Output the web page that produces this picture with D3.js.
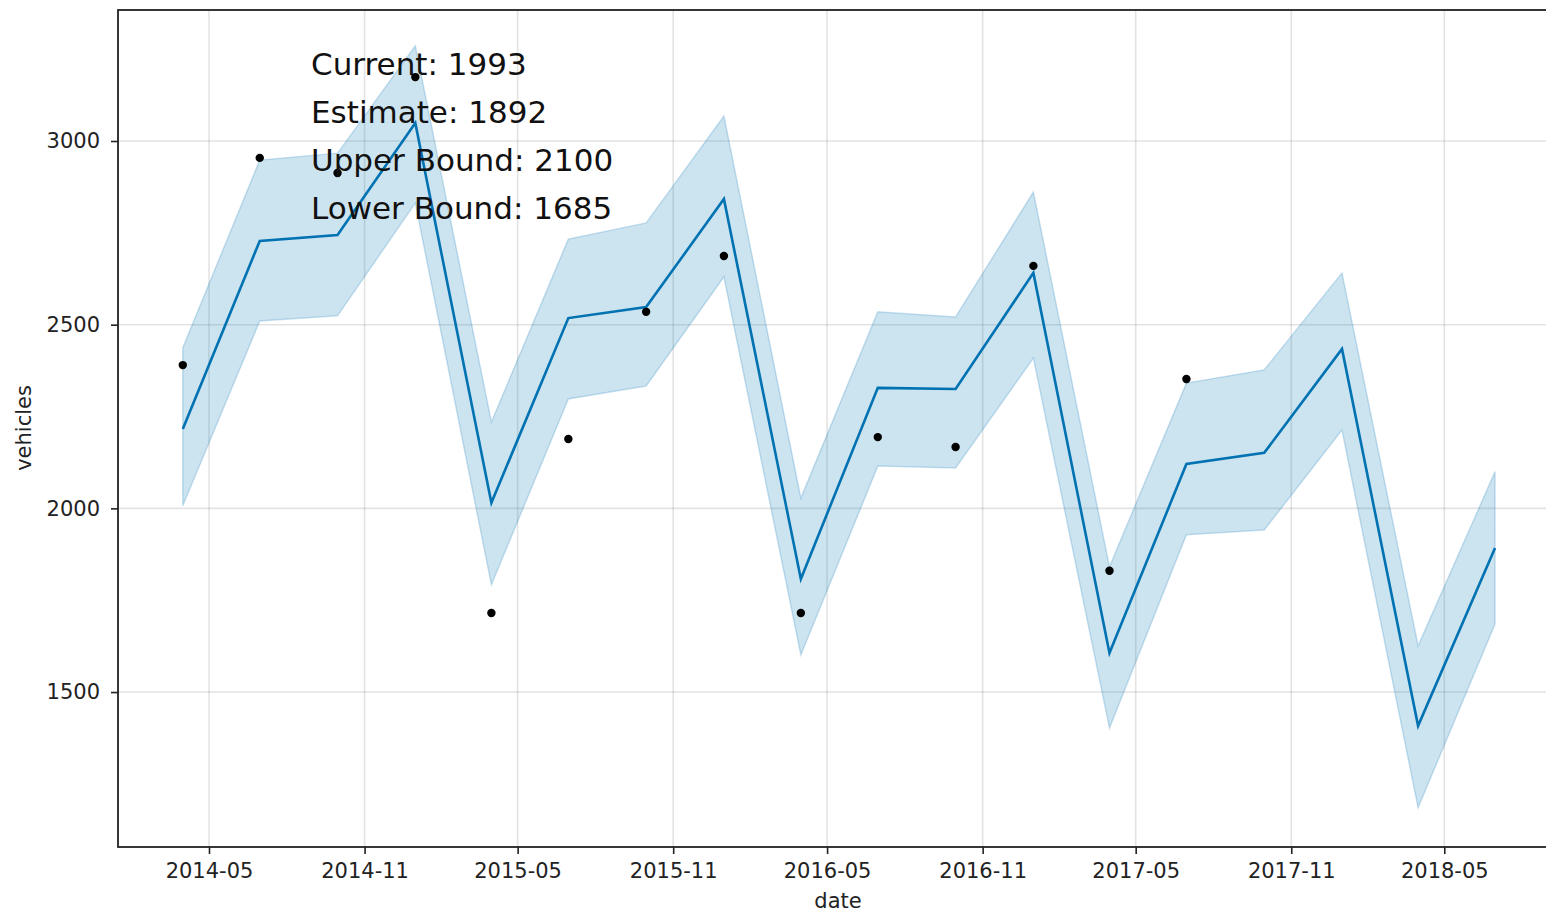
<!DOCTYPE html>
<html>
<head>
<meta charset="utf-8">
<script src="https://cdn.jsdelivr.net/npm/d3@7"></script>
<style>
  html, body { margin: 0; padding: 0; background: #fff; overflow: hidden; }
  svg { display: block; font-family: "DejaVu Sans", sans-serif; }
</style>
</head>
<body>
<svg id="chart" width="1546" height="913"></svg>
<script>
// ---- data ----
const forecastDates = ["2014-03-31","2014-06-30","2014-09-30","2014-12-31","2015-03-31","2015-06-30","2015-09-30","2015-12-31","2016-03-31","2016-06-30","2016-09-30","2016-12-31","2017-03-31","2017-06-30","2017-09-30","2017-12-31","2018-03-31","2018-06-30"];
const yhat       = [2216,2728,2744,3049,2015,2518,2548,2842,1808,2328,2325,2641,1606,2121,2151,2434,1408,1892];
const yhatUpper  = [2437,2948,2967,3259,2235,2733,2777,3068,2028,2535,2521,2861,1841,2341,2377,2641,1626,2100];
const yhatLower  = [2007,2510,2524,2831,1792,2298,2333,2630,1601,2115,2110,2409,1402,1928,1941,2213,1185,1685];
const actualDates = forecastDates.slice(0, 14);
const actual      = [2390,2954,2913,3174,1715,2189,2535,2687,1715,2194,2167,2660,1830,2352];
const xTickDates  = ["2014-05-01","2014-11-01","2015-05-01","2015-11-01","2016-05-01","2016-11-01","2017-05-01","2017-11-01","2018-05-01"];
const yTicks      = [1500,2000,2500,3000];
const infoLines   = ["Current: 1993","Estimate: 1892","Upper Bound: 2100","Lower Bound: 1685"];

// ---- layout ----
const L = 118, T = 10, R = 1558, B = 847;
const parse = s => new Date(s + "T00:00:00Z");
const svg = d3.select("#chart");

// x: calibrated so 2014-05-01 -> 209, 2018-05-01 -> 1444.3
const x0 = parse("2014-05-01"), x1 = parse("2018-05-01");
const pxPerMs = (1444.3 - 209) / (x1 - x0);
const dLeft = new Date(+x0 - (209 - L) / pxPerMs);
const dRight = new Date(+x1 + (R - 1444.3) / pxPerMs);
const x = d3.scaleUtc().domain([dLeft, dRight]).range([L, R]);
const y = d3.scaleLinear().domain([1078.2, 3356.6]).range([B, T]);

const fc = forecastDates.map((d, i) => ({ date: parse(d), yhat: yhat[i], up: yhatUpper[i], lo: yhatLower[i] }));
const obs = actualDates.map((d, i) => ({ date: parse(d), v: actual[i] }));

// grid
const gridColor = "rgba(128,128,128,0.22)";
svg.append("g").selectAll("line").data(xTickDates.map(parse)).join("line")
  .attr("x1", d => x(d)).attr("x2", d => x(d)).attr("y1", T).attr("y2", B)
  .attr("stroke", gridColor).attr("stroke-width", 1.6);
svg.append("g").selectAll("line").data(yTicks).join("line")
  .attr("x1", L).attr("x2", R).attr("y1", d => y(d)).attr("y2", d => y(d))
  .attr("stroke", gridColor).attr("stroke-width", 1.6);

// band
const area = d3.area().x(d => x(d.date)).y0(d => y(d.lo)).y1(d => y(d.up));
svg.append("path").datum(fc).attr("d", area)
  .attr("fill", "#0072B2").attr("fill-opacity", 0.2)
  .attr("stroke", "#0072B2").attr("stroke-opacity", 0.2).attr("stroke-width", 1.5);

// line
const line = d3.line().x(d => x(d.date)).y(d => y(d.yhat));
svg.append("path").datum(fc).attr("d", line)
  .attr("fill", "none").attr("stroke", "#0072B2").attr("stroke-width", 2.6);

// points
svg.append("g").selectAll("circle").data(obs).join("circle")
  .attr("cx", d => x(d.date)).attr("cy", d => y(d.v)).attr("r", 4.2).attr("fill", "#000");

// axes
const fontSize = "21px";
const xAxis = d3.axisBottom(x).tickValues(xTickDates.map(parse))
  .tickFormat(d3.utcFormat("%Y-%m")).tickSize(7).tickPadding(9);
const gx = svg.append("g").attr("transform", `translate(0,${B})`).call(xAxis);
const yAxis = d3.axisLeft(y).tickValues(yTicks).tickFormat(d3.format("d")).tickSize(7).tickPadding(11);
const gy = svg.append("g").attr("transform", `translate(${L},0)`).call(yAxis);
[gx, gy].forEach(g => {
  g.select(".domain").remove();
  g.selectAll(".tick line").attr("stroke", "#222").attr("stroke-width", 1.6);
  g.selectAll(".tick text").attr("fill", "#222").style("font-size", fontSize)
    .style("font-family", "'DejaVu Sans', sans-serif");
});

// spines
svg.append("rect").attr("x", L).attr("y", T).attr("width", R - L).attr("height", B - T)
  .attr("fill", "none").attr("stroke", "#222").attr("stroke-width", 1.8);

// axis labels
svg.append("text").attr("x", (L + R) / 2).attr("y", 908).attr("text-anchor", "middle")
  .attr("fill", "#222").style("font-size", fontSize).text("date");
svg.append("text").attr("transform", "translate(31,428) rotate(-90)").attr("text-anchor", "middle")
  .attr("fill", "#222").style("font-size", fontSize).text("vehicles");

// info text
svg.append("g").selectAll("text").data(infoLines).join("text")
  .attr("x", 311).attr("y", (d, i) => 75 + i * 48)
  .attr("fill", "#111").style("font-size", "31px").text(d => d);
</script>
</body>
</html>
